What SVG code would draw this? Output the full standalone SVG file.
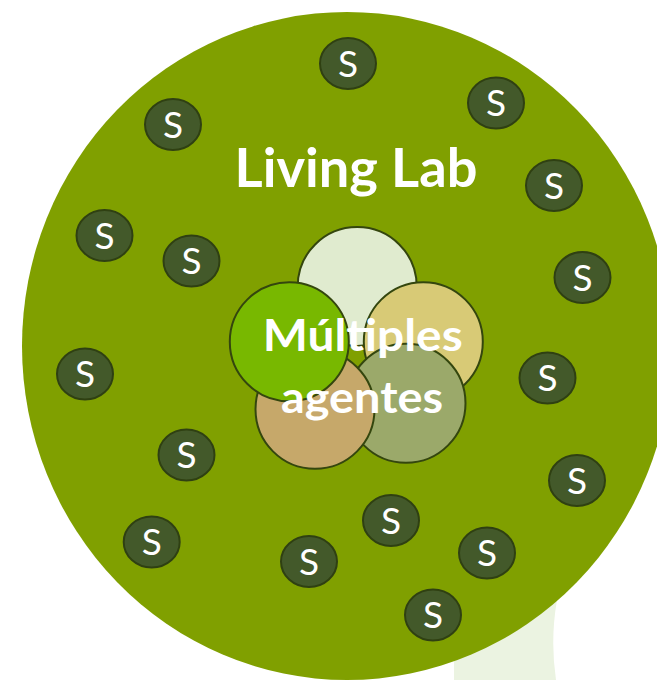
<svg xmlns="http://www.w3.org/2000/svg" width="657" height="680" viewBox="0 0 657 680">
<style>
.s{fill:#43592A;stroke:#2F4012;stroke-width:2}
.st{font-family:Lato,"Open Sans","Liberation Sans",sans-serif;font-size:37px;fill:#FFFFFF;text-anchor:middle}
.ag{stroke:#34460E;stroke-width:2}
.big{font-family:Lato,"Open Sans","Liberation Sans",sans-serif;font-weight:700;fill:#FFFFFF;text-anchor:middle}
</style>
<rect width="657" height="680" fill="#FFFFFF"/>
<g id="trunk">
<path d="M454,560 L454,680 L556,680 Q550,640 557,600 L566,560 Z" fill="#EBF3E1"/>
</g>
<g id="living-lab">
<ellipse cx="347" cy="346" rx="325" ry="334" fill="#80A000"/>
<text class="big" x="356" y="186.5" font-size="54" textLength="243" lengthAdjust="spacingAndGlyphs">Living Lab</text>
</g>
<g id="s1"><ellipse class="s" cx="348" cy="63.5" rx="28" ry="25.5"/><text class="st" x="348" y="76.8">S</text></g>
<g id="s2"><ellipse class="s" cx="496" cy="103" rx="28" ry="25.5"/><text class="st" x="496" y="116.3">S</text></g>
<g id="s3"><ellipse class="s" cx="173" cy="124.5" rx="28" ry="25.5"/><text class="st" x="173" y="137.8">S</text></g>
<g id="s4"><ellipse class="s" cx="554" cy="185.5" rx="28" ry="25.5"/><text class="st" x="554" y="198.8">S</text></g>
<g id="s5"><ellipse class="s" cx="104.5" cy="235.5" rx="28" ry="25.5"/><text class="st" x="104.5" y="248.8">S</text></g>
<g id="s6"><ellipse class="s" cx="191.5" cy="261" rx="28" ry="25.5"/><text class="st" x="191.5" y="274.3">S</text></g>
<g id="s7"><ellipse class="s" cx="582.5" cy="277.5" rx="28" ry="25.5"/><text class="st" x="582.5" y="290.8">S</text></g>
<g id="s8"><ellipse class="s" cx="85" cy="374" rx="28" ry="25.5"/><text class="st" x="85" y="387.3">S</text></g>
<g id="s9"><ellipse class="s" cx="547.5" cy="378" rx="28" ry="25.5"/><text class="st" x="547.5" y="391.3">S</text></g>
<g id="s10"><ellipse class="s" cx="186.5" cy="455" rx="28" ry="25.5"/><text class="st" x="186.5" y="468.3">S</text></g>
<g id="s11"><ellipse class="s" cx="577" cy="480.5" rx="28" ry="25.5"/><text class="st" x="577" y="493.8">S</text></g>
<g id="s12"><ellipse class="s" cx="151.7" cy="542" rx="28" ry="25.5"/><text class="st" x="151.7" y="555.3">S</text></g>
<g id="s13"><ellipse class="s" cx="391" cy="520.5" rx="28" ry="25.5"/><text class="st" x="391" y="533.8">S</text></g>
<g id="s14"><ellipse class="s" cx="309" cy="561.5" rx="28" ry="25.5"/><text class="st" x="309" y="574.8">S</text></g>
<g id="s15"><ellipse class="s" cx="487" cy="553" rx="28" ry="25.5"/><text class="st" x="487" y="566.3">S</text></g>
<g id="s16"><ellipse class="s" cx="433" cy="615" rx="28" ry="25.5"/><text class="st" x="433" y="628.3">S</text></g>
<g id="agentes">
<circle class="ag" cx="357.2" cy="286.5" r="59.5" fill="#E0EBCF"/>
<circle class="ag" cx="423.3" cy="341.7" r="59.5" fill="#D8CA76"/>
<circle class="ag" cx="406" cy="403.3" r="59.5" fill="#9BA96A"/>
<circle class="ag" cx="315" cy="409.3" r="59.5" fill="#C6A86A"/>
<circle class="ag" cx="289.3" cy="341.7" r="59.5" fill="#78B800"/>
<text class="big" x="362.7" y="350.5" font-size="44" textLength="200" lengthAdjust="spacingAndGlyphs">Múltiples</text>
<text class="big" x="362" y="412.5" font-size="44" textLength="162" lengthAdjust="spacingAndGlyphs">agentes</text>
</g>
<g id="connectors"/>
</svg>
